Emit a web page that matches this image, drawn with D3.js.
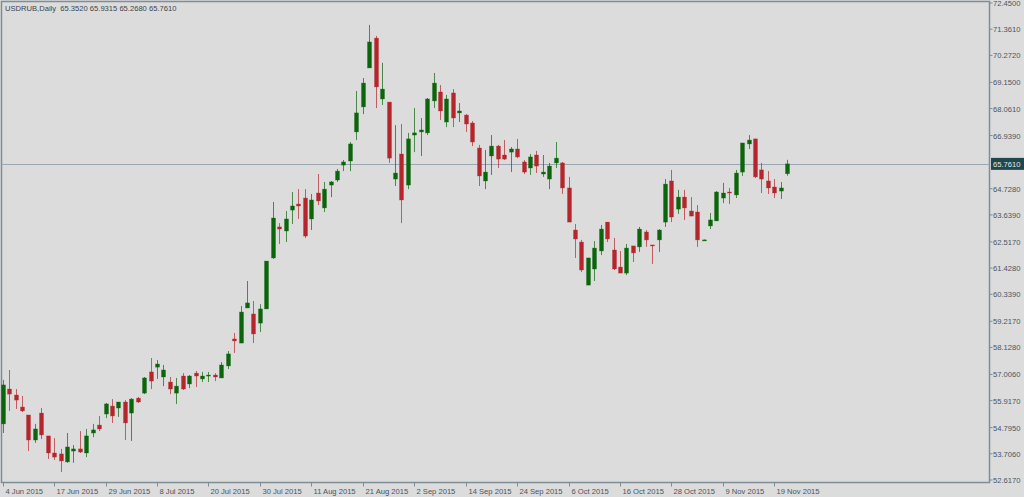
<!DOCTYPE html>
<html><head><meta charset="utf-8">
<script src="https://cdn.jsdelivr.net/npm/d3@7"></script>
<style>body{margin:0;background:#dcdcdc;}svg{display:block;}</style>
</head><body><svg id="c" width="1024" height="497"></svg>
<script>
const opens=[54.95,56.40,56.15,55.65,55.32,54.28,55.40,54.45,53.74,53.70,53.37,53.82,53.91,53.74,54.57,54.90,55.36,55.69,55.61,55.86,55.40,56.02,56.23,57.11,57.31,56.90,56.69,56.23,56.94,56.61,57.06,56.82,56.94,56.98,56.86,57.36,58.48,58.31,59.77,59.52,59.14,59.73,61.85,63.14,62.97,63.84,64.09,64.34,63.47,64.55,63.93,64.88,65.09,65.71,65.88,67.09,68.13,69.75,70.99,68.46,68.33,65.13,66.17,64.88,66.96,67.09,67.05,68.38,68.75,67.50,68.71,67.88,67.79,67.46,66.42,65.05,66.09,66.50,66.13,66.25,66.38,65.84,65.59,66.13,65.34,65.13,65.80,65.80,64.76,63.01,62.51,60.72,61.39,62.14,63.34,62.18,61.47,61.22,62.35,62.31,62.93,62.39,62.60,63.34,65.05,63.88,64.38,63.80,63.76,62.60,63.18,63.39,64.34,64.59,64.47,65.42,66.59,66.80,65.51,65.05,64.80,64.63,65.352];
const highs=[56.78,57.19,56.40,56.11,55.32,54.95,55.61,54.45,54.36,53.91,54.57,54.07,54.65,54.74,54.95,55.28,55.82,55.98,55.86,55.94,56.02,56.07,56.90,57.69,57.61,57.40,56.90,56.86,57.06,56.98,57.15,57.11,57.11,57.06,57.52,57.98,58.73,59.85,60.89,60.06,59.93,61.72,64.18,63.30,63.80,64.59,64.71,64.71,64.51,65.34,65.01,65.05,65.55,65.92,66.67,68.79,69.33,71.54,71.08,69.96,68.33,67.37,67.42,67.05,68.08,67.67,68.50,69.54,69.04,68.63,68.87,68.29,67.83,67.54,66.55,66.34,66.96,66.55,66.75,66.46,66.80,65.92,66.17,66.30,66.13,65.80,66.67,65.84,65.22,63.26,62.60,61.85,62.55,63.22,63.34,62.68,62.14,62.43,62.35,63.14,63.01,62.39,63.05,65.13,65.51,64.68,64.68,64.38,64.05,62.62,63.72,64.63,64.97,64.76,65.51,66.63,66.96,66.80,65.80,65.46,65.13,65.01,65.9315];
const lows=[54.57,55.49,55.57,55.44,53.82,54.16,54.32,53.49,53.45,52.95,53.33,53.33,53.74,53.57,54.40,54.65,55.19,54.99,55.24,54.28,54.24,55.82,56.19,56.40,56.82,56.52,56.19,55.78,56.36,56.44,56.48,56.69,56.69,56.73,56.86,57.23,57.90,58.31,59.77,58.31,58.77,59.73,61.81,62.43,62.51,63.26,63.47,62.68,63.01,64.05,63.76,64.38,65.01,65.46,65.46,66.75,67.83,69.75,68.08,68.21,65.80,64.84,63.30,64.71,66.25,66.09,66.96,68.08,67.59,67.29,67.29,67.50,67.09,66.50,64.84,64.71,65.30,65.59,65.92,65.42,66.00,65.34,65.30,65.38,65.22,64.71,65.59,64.51,63.34,61.85,61.26,60.72,60.89,61.97,62.51,61.35,61.22,61.14,61.68,62.10,62.31,61.60,62.10,63.14,63.34,63.68,63.43,63.59,62.31,62.58,63.05,63.39,64.13,64.09,64.34,65.26,66.38,65.17,64.55,64.51,64.34,64.30,65.268];
const closes=[56.57,56.19,55.94,55.49,54.28,54.74,54.49,53.74,53.57,53.41,53.99,53.91,53.78,54.45,54.70,54.74,55.78,55.28,55.86,54.99,55.98,55.86,56.86,56.73,57.44,57.19,56.40,56.52,56.40,56.94,56.94,56.94,56.98,56.90,57.40,57.86,58.40,59.60,59.98,58.69,59.73,61.72,63.51,63.05,63.47,64.01,64.01,62.76,64.26,64.22,64.71,65.01,65.46,65.84,66.59,67.88,69.12,70.83,68.96,68.87,66.00,65.38,64.26,66.80,67.05,67.17,68.46,69.12,67.96,68.46,67.67,67.96,67.42,66.67,65.26,65.42,66.50,65.96,65.96,66.38,66.05,65.42,66.05,65.67,65.42,65.67,66.00,64.76,63.34,62.64,61.35,61.85,62.26,63.05,62.64,61.39,61.22,62.26,62.06,63.05,62.60,62.35,63.01,64.92,63.55,64.38,63.93,63.59,62.60,62.60,63.43,64.59,64.55,64.55,65.38,66.63,66.75,65.22,65.13,64.76,64.55,64.76,65.761];
const priceTicks=[72.45,71.361,70.272,69.15,68.061,66.939,64.728,63.639,62.517,61.428,60.339,59.217,58.128,57.006,55.917,54.795,53.706,52.617];
const dateLabels=["4 Jun 2015","17 Jun 2015","29 Jun 2015","8 Jul 2015","20 Jul 2015","30 Jul 2015","11 Aug 2015","21 Aug 2015","2 Sep 2015","14 Sep 2015","24 Sep 2015","6 Oct 2015","16 Oct 2015","28 Oct 2015","9 Nov 2015","19 Nov 2015"];
const lastPrice=65.761, header="USDRUB,Daily  65.3520 65.9315 65.2680 65.7610";

const FONT="Liberation Sans, Arial, sans-serif";
const svg=d3.select("#c");
const L=1.5,R=989.5,T=1.5,B=482.5;
const y=d3.scaleLinear().domain([52.617,72.45]).range([480,3]);
const x=d3.scaleLinear().domain([0,1]).range([2.7,9.13]);
svg.append("rect").attr("x",0).attr("y",0).attr("width",1024).attr("height",497).attr("fill","#dcdcdc");
svg.append("rect").attr("x",L).attr("y",T).attr("width",R-L).attr("height",B-T).attr("fill","none").attr("stroke","#7f8d94").attr("stroke-width",1.5);
svg.append("line").attr("x1",L).attr("x2",R).attr("y1",Math.round(y(lastPrice))+0.5).attr("y2",Math.round(y(lastPrice))+0.5).attr("stroke","#9aa7b2").attr("stroke-width",1.2);
const idx=d3.range(opens.length);
const col=i=>closes[i]>=opens[i]?"#0b650b":"#b4262b";
const g=svg.append("g");
g.selectAll("line.w").data(idx).join("line").attr("x1",i=>Math.round(x(i))+0.5).attr("x2",i=>Math.round(x(i))+0.5)
 .attr("y1",i=>y(highs[i])).attr("y2",i=>y(lows[i])).attr("stroke",i=>col(i)).attr("stroke-opacity",0.7).attr("stroke-width",1);
g.selectAll("rect.b").data(idx).join("rect").attr("x",i=>Math.round(x(i))-1.5).attr("width",4)
 .attr("y",i=>y(Math.max(opens[i],closes[i]))).attr("height",i=>Math.max(1,Math.abs(y(opens[i])-y(closes[i]))))
 .attr("fill",i=>col(i)).attr("stroke",i=>col(i)).attr("stroke-opacity",0.5).attr("stroke-width",0.6);
const ax=svg.append("g").attr("font-family",FONT).attr("font-size",7.6).attr("fill","#4a5560");
priceTicks.forEach(p=>{const yy=y(p);
 ax.append("line").attr("x1",R).attr("x2",R+3).attr("y1",yy).attr("y2",yy).attr("stroke","#7f8d94");
 ax.append("text").attr("x",993).attr("y",yy+3).text(p.toFixed(4));});
const ly=y(lastPrice);
ax.append("rect").attr("x",991).attr("y",ly-6).attr("width",33).attr("height",12).attr("fill","#21474d");
ax.append("text").attr("x",993).attr("y",ly+3).attr("fill","#e0e8e8").text(lastPrice.toFixed(4));
dateLabels.forEach((d,k)=>{const xx=Math.round(x(k*8))+0.5;
 ax.append("line").attr("x1",xx).attr("x2",xx).attr("y1",B).attr("y2",B+4).attr("stroke","#7f8d94");
 ax.append("text").attr("x",xx+2).attr("y",494).text(d);});
svg.append("text").attr("x",5).attr("y",11).attr("font-family",FONT).attr("font-size",7.6).attr("fill","#3a4550").attr("xml:space","preserve").text(header);
</script></body></html>
